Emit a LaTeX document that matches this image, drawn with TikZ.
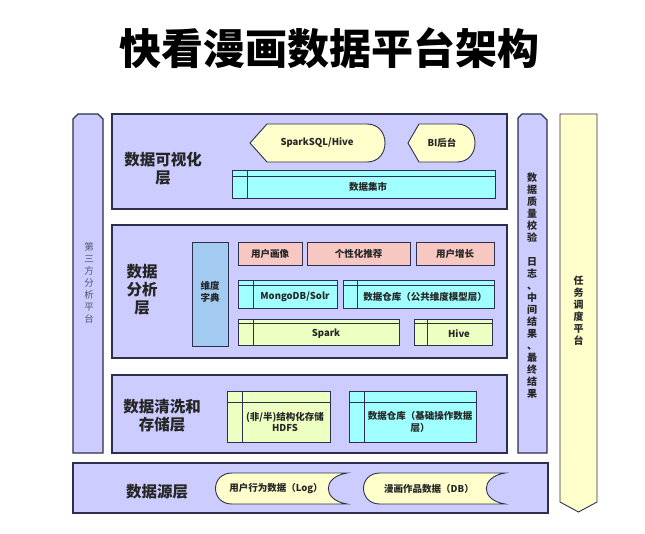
\documentclass[tikz,border=0pt]{standalone}
\usepackage{fontspec}
\setmainfont{Noto Sans CJK SC}
\usepackage{tikz}
\definecolor{layerBg}{HTML}{CCCCFF}
\definecolor{layerLn}{HTML}{2E2E4E}
\definecolor{martC}{HTML}{A0FFFF}
\definecolor{fileY}{HTML}{FFFFCC}
\definecolor{engG}{HTML}{EEFFC2}
\definecolor{appR}{HTML}{F7C8C2}
\definecolor{dimB}{HTML}{A3CBF2}
\definecolor{sideT}{HTML}{55556A}

\begin{document}
\begin{tikzpicture}[x=1pt, y=-1pt,
  layer/.style={draw=layerLn, fill=layerBg, line width=1.5pt},
  box/.style={draw=layerLn, line width=0.9pt},
  lab/.style={font=\fontsize{15.5}{18}\selectfont\bfseries, align=center, text=black!85},
  txt/.style={font=\fontsize{9.5}{11.5}\selectfont\bfseries, align=center, text=black!85, inner sep=0pt},
  vtxt/.style={font=\fontsize{9.5}{12.1}\selectfont, align=center, inner sep=0pt}]
  \fill[white] (0,0) rectangle (645,533);
  \useasboundingbox (0,0) rectangle (645,533);

  \node[font=\fontsize{42}{48}\selectfont\bfseries] (title) at (329,48) {快看漫画数据平台架构};

  % layers
  \draw[layer] (112,114) rectangle (507,209);
  \draw[layer] (112,225) rectangle (507,358);
  \draw[layer] (112,375) rectangle (507,453);
  \draw[layer] (73,463) rectangle (548,513);
  \node[lab] (visLab) at (163,169) {数据可视化\\层};
  \node[lab] (anaLab) at (142,290) {数据\\分析\\层};
  \node[lab] (stoLab) at (162,416) {数据清洗和\\存储层};
  \node[lab] (srcLab) at (157,492) {数据源层};

  % side columns
  \draw[layer, line width=1.3pt] (73,119) -- (78,114) -- (98,114) -- (103,119) -- (103,453) -- (73,453) -- cycle;
  \draw[layer, line width=1.3pt] (518,118) -- (522,114) -- (541,114) -- (547,120) -- (547,453) -- (518,453) -- cycle;
  \draw[box, fill=fileY] (560,114) -- (597,114) -- (597,502) -- (578.5,512) -- (560,502) -- cycle;
  \node[vtxt, text=sideT] (thirdParty) at (89,283) {第\\三\\方\\分\\析\\平\\台};
  \node[vtxt, font=\bfseries, text=black!85] (quality) at (532,285.5)
    {数\\据\\质\\量\\校\\验\\[12.1pt]日\\志\\、\\中\\间\\结\\果\\、\\最\\终\\结\\果};
  \node[vtxt, font=\bfseries, text=black!85] (schedule) at (578.5,310.5) {任\\务\\调\\度\\平\\台};

  % visualization tools
  \draw[box, fill=fileY] (250,143) -- (267,124) -- (367,124)
    .. controls (391,124) and (391,162) .. (367,162) -- (267,162) -- cycle;
  \node[txt] (sparkSql) at (317,143) {SparkSQL/Hive};
  \draw[box, fill=fileY] (408,143) -- (419,124) -- (457,124)
    .. controls (481,124) and (481,162) .. (457,162) -- (419,162) -- cycle;
  \node[txt] (biTool) at (442,143) {BI后台};

  % store boxes: corner, corner, inner line offsets, fill
  \foreach \xa/\ya/\xb/\yb/\dx/\dy/\bg in {
    232/170/495/198/15/6/martC,
    238/280/337/308/15/5/martC,
    343/280/494/308/14/5/martC,
    238/319/399/345/15/4/engG,
    414/319/492/345/13/4/engG,
    227/391/330/442/15/11/engG,
    349/391/476/442/15/11/martC}{
    \draw[box, fill=\bg] (\xa,\ya) rectangle (\xb,\yb);
    \draw[box] (\xa+\dx,\ya) -- (\xa+\dx,\yb) (\xa,\ya+\dy) -- (\xb,\ya+\dy);
  }
  \node[txt] (mart) at (368,187) {数据集市};
  \node[txt] (mongo) at (295,297) {MongoDB/Solr};
  \node[txt] (dwPub) at (425,297) {数据仓库（公共维度模型层）};
  \node[txt] (spark) at (326,334) {Spark};
  \node[txt] (hive) at (459,334) {Hive};
  \node[txt] (hdfs) at (285,422) {(非/半)结构化存储\\HDFS};
  \node[txt] (dwBase) at (420,422) {数据仓库（基础操作数据\\层）};

  % applications
  \foreach \xa/\xb/\name/\txt in {
    238/302/portrait/用户画像,
    307/410/recommend/个性化推荐,
    416/494/growth/用户增长}{
    \draw[box, fill=appR] (\xa,242) rectangle (\xb,265);
    \node[txt] (\name) at ({(\xa+\xb)/2},253.5) {\txt};
  }
  \draw[box, fill=dimB] (192,242) rectangle (228,346);
  \node[txt] (dimDict) at (210,292) {维度\\字典};

  % data sources
  \draw[box, fill=fileY] (232,473) -- (347,473) .. controls (322,477) and (322,500) .. (347,504)
    -- (232,504) .. controls (210,504) and (210,473) .. (232,473) -- cycle;
  \node[txt] (userLog) at (276,488.5) {用户行为数据（Log）};
  \draw[box, fill=fileY] (380,473) -- (505,473) .. controls (480,477) and (480,500) .. (505,504)
    -- (380,504) .. controls (358,504) and (358,473) .. (380,473) -- cycle;
  \node[txt] (comicDb) at (429,488.5) {漫画作品数据（DB）};
\end{tikzpicture}
\end{document}
